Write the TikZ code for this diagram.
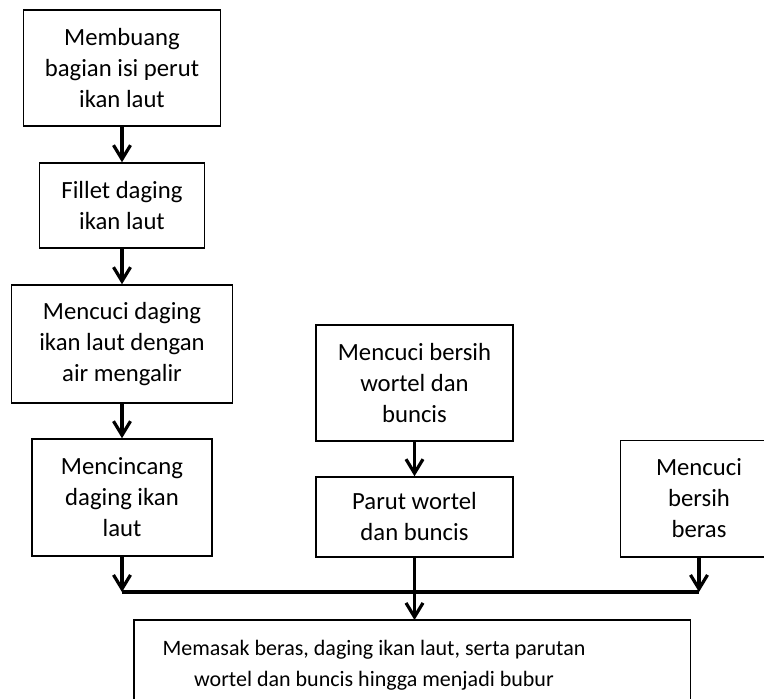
\documentclass[tikz,border=0pt]{standalone}
\usepackage{fontspec}
\setmainfont{Carlito}
\usetikzlibrary{arrows.meta}
\begin{document}
\begin{tikzpicture}[x=1pt,y=-1pt,
  box/.style={draw, line width=1.5pt, align=center, inner sep=0pt,
    font=\fontsize{24.7}{31}\selectfont},
  openbox/.style={box, draw=none},
  edge/.style={line width=1.5pt},
  txt/.style={align=center, inner sep=0pt, font=\fontsize{22}{31}\selectfont},
  conn/.style={line width=3.2pt},
  arr/.style={conn, -{Straight Barb[length=14pt,width=17pt]}}]
\useasboundingbox (0,0) rectangle (764,699);
\clip (0,0) rectangle (764,699);
\node[box, minimum width=197pt, minimum height=116pt] (b1) at (122,68) {Membuang\\bagian isi perut\\ikan laut};
\node[box, minimum width=165pt, minimum height=85pt] (b2) at (122,205.5) {Fillet daging\\ikan laut};
\node[box, minimum width=221pt, minimum height=118pt] (b3) at (122,344) {Mencuci daging\\ikan laut dengan\\air mengalir};
\node[box, minimum width=180pt, minimum height=117pt] (b4) at (122,497.5) {Mencincang\\daging ikan\\laut};
\node[box, minimum width=197pt, minimum height=116pt] (b5) at (414.5,383) {Mencuci bersih\\wortel dan\\buncis};
\node[box, minimum width=197pt, minimum height=80pt] (b6) at (414.5,517) {Parut wortel\\dan buncis};
\node[openbox, minimum width=156pt, minimum height=115pt] (b7) at (699,498.5) {Mencuci\\bersih\\beras};
\draw[edge] (b7.north east) -- (b7.north west) -- (b7.south west) -- (b7.south east);
\node[openbox, minimum width=555pt, minimum height=100pt, anchor=north west] (b8) at (134,620) {};
\draw[edge] (b8.south west) -- (b8.north west) -- (b8.north east) -- (b8.south east);
\node[txt] (b8t) at (374,665) {Memasak beras, daging ikan laut, serta parutan\\wortel dan buncis hingga menjadi bubur};
\coordinate (jL) at (122,592);
\coordinate (jR) at (699,592);
\draw[arr] (b1.south) -- (b2.north);
\draw[arr] (b2.south) -- (b3.north);
\draw[arr] (b3.south) -- (b4.north);
\draw[arr] (b5.south) -- (b6.north);
\draw[conn] (jL) -- (jR);
\draw[arr] (b4.south) -- (b4.south |- jL);
\draw[arr] (b7.south) -- (b7.south |- jR);
\draw[arr] (b6.south) -- (b6.south |- b8.north);
\end{tikzpicture}
\end{document}
